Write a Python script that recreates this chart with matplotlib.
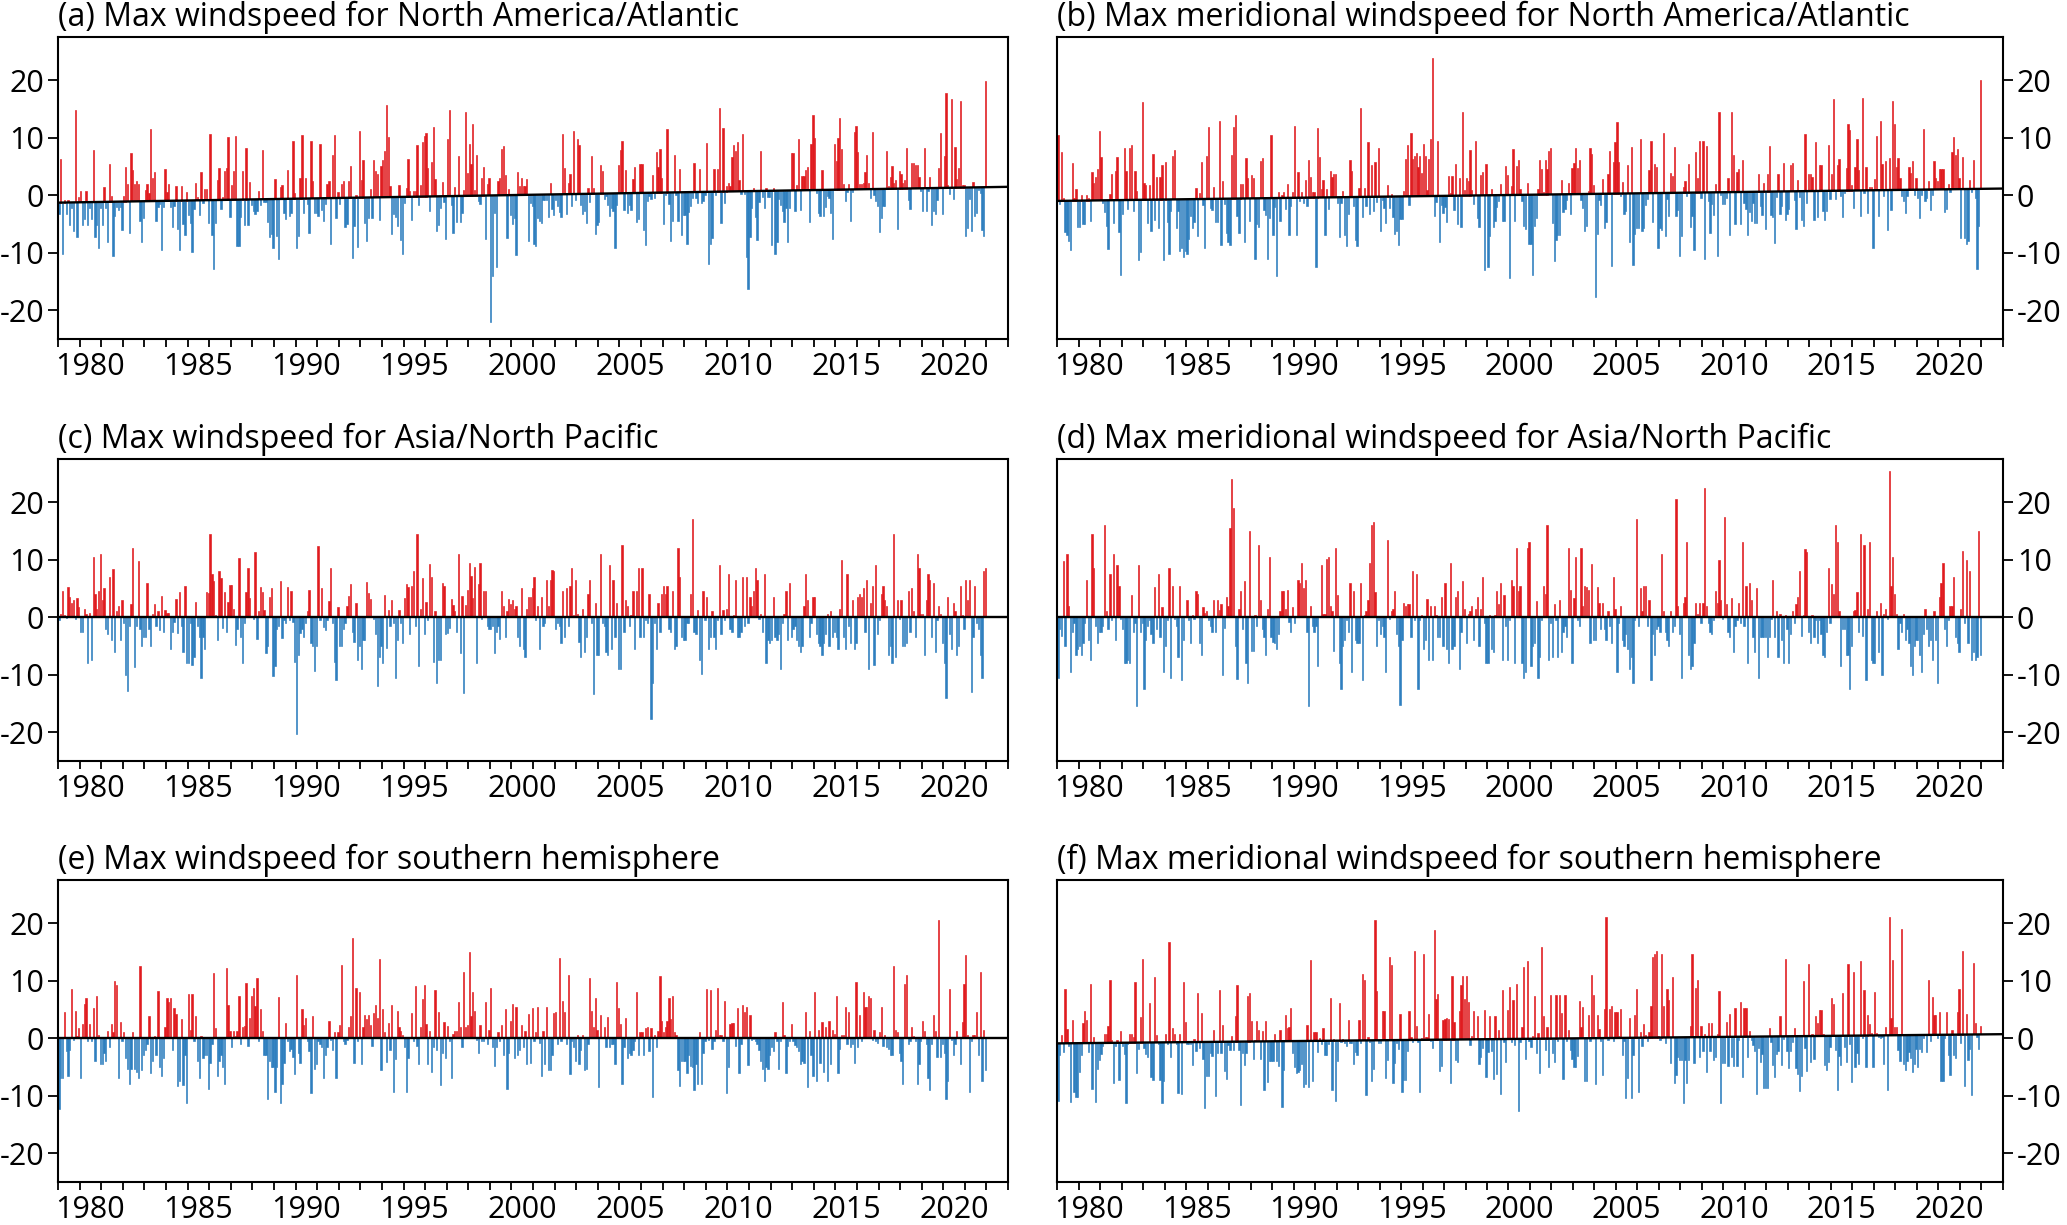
#!/usr/bin/env python3
# -*- coding: utf-8 -*-
"""
Monthly max windspeed anomalies (bars) about a linear trend (black line),
six regions / components, 1979-2021.
"""

import matplotlib
matplotlib.use("Agg")
import matplotlib.pyplot as plt
import numpy as np

plt.rcParams["font.family"] = ["Open Sans", "DejaVu Sans"]

# ------------------------------------------------------------------------------

# Data: one row of 12 monthly anomalies per year, 1979 .. 2021

FIRST_YEAR = 1979
X_RANGE = (1979, 2023)
Y_RANGE = (-25, 27.5)

# (a) Max windspeed, North America/Atlantic
ws_na = [
    [-2, 7.5, -9, 0.5, -2, 0.5, -4, -1, -5, 16, -6, 1],
    [2, -4, -3, 2, -4, -1, -3, 9, -6, -4, -8, -1],
    [-4, 2.5, -1, -7, 6.5, 1, -9.5, -2.5, -1, -1.5, -1, -5],
    [1, 6, 3, -5.5, 8.5, 5.5, 3, 3.5, 3, -3.5, -7, -3],
    [2, 3, 1.5, 12.5, 4, 5, -3.5, -1, -0.5, -8.5, -1, 5.5],
    [1.5, 3, -1, -4.5, -1, 2.5, -5, -8.5, 2.5, -4, -6, 1.5],
    [-2.5, -4, -9, -1.5, 3, 0.5, -2.5, 5, -0.5, 2, 2, -4],
    [11.5, -6, -12, -4, 3.5, 5.5, -1.5, 0.5, 5, 5.5, 11, -3],
    [2.5, 5, 11, -8, -8, -3, 5, -4.5, 9, -4.5, 3, -1],
    [-2, -2.5, -2, 1.5, -1, 8.5, -0.5, -0.5, -4, -6.5, -6, -8.5],
    [3.5, -6.5, -10.5, 2, 2.5, -2.5, -3.5, 5, -3, -2.5, 10, 1],
    [-8.5, -6.5, 3.5, 11, -2.5, 3.5, -1, -6, 10, 3, -2.5, -2.5],
    [-3, 9.5, -2, -4, -1, 2.5, 3, -8, 7.5, 11, -3.5, 1],
    [-1, 2.5, 3, -5, -4.5, 3, 5.5, -10.5, -5, 0.5, -8.5, 11.5],
    [3, 6.5, -4.5, -7.5, -3.5, 1.5, -3.5, 6.5, 4.5, 4, -4, 5.5],
    [6.5, 8, 16, 10.5, 2, -6.5, -3, -3.5, -5, 2, -7.5, -10],
    [-1, 1.5, 6.5, 1, -4, 1, 1, 9, -1.5, 2, 9.5, 10.5],
    [11, 5, -2.5, 6, 12, 3, -6, -5, -2, 2.5, -1, -7.5],
    [10, 15, -1.5, -6.5, 1.5, -4.5, 7, -4.5, -3, 1, 14.5, 4],
    [9, 5.5, 12.5, 1, 7, -1, -1.5, 3, 5, -7.5, 2, 3],
    [-22, -14, -3, -12.5, 2.5, 3, 8, 8.5, 3.5, -7.5, 1, -3.5],
    [-5, -4, -10.5, 4, 1.5, 3, 1.5, 1.5, 2.8, -8, -1.5, -2],
    [-8.5, -9, -4, -4.5, -5, -1, -1, -1, -4, 2, -2.5, -3.5],
    [-1, -2, -3, -4, 10.5, 4.5, -3.5, 2, 3.5, -2, 11, -1],
    [9.5, 8.5, -2, -3.5, -3, -5, 1, -1.5, 6.5, 1, -7, -5.5],
    [-5, 5, 4, -1, -0.5, -2, -4, -2.5, -3, -9.5, -2, 5],
    [7.5, 9, -3, 4, -3.5, -2, -3, 2.5, 4.5, -5, -4.5, 5],
    [5, -6.5, -9, -1.5, -0.5, -1, 3, -1, 7, 4.5, 7.5, 2.5],
    [-5.5, -0.5, 11, -2, -8.5, -5, 6.5, -0.5, -5, 4, -7.5, -4],
    [-4, -9, -3.5, -2.5, -1, 5, -1, -2, 4, -2, -1.5, -0.5],
    [8.5, -12.5, -9, -8, 4, -0.5, 4, 14.5, -5.5, 11, -2, 1],
    [1.5, 1, 6, 8, 7, 8.5, 2, -0.5, 10, -0.5, -11.5, -17],
    [-8, -3, 0.5, -4.5, -8.5, -2, 7, -1, -3, 0.5, -1, -1],
    [-9.5, 0.5, -11, -9, -1.5, -2.5, -3.5, -5.5, -3, -9, -3, 6.5],
    [6.5, -3.5, 1, 9, -3.5, 2.5, 2.5, 3.5, 4, -5.5, 8, 13],
    [9, -0.5, -4, -4.5, 3.5, -4.5, -3, -1, -1.5, -4, -8.5, 8],
    [5, 9, 12.5, 7, 1, -2, -0.5, 1, -5.5, -0.5, 10, 11],
    [6.5, 1, 1, 1, 3, 6, 1, -1.5, 10, -1, -2, -3],
    [-7.5, -5, -3, -3, 6.5, 0.5, 2, 4, 1, 1.5, -7, 3],
    [2.5, 1, 1.5, 7, -2, -3.5, 4.5, 4.5, 4, 4, 2, -0.5],
    [-4, 7, -4, -0.5, 2, -6.5, -4, -4.5, -2, 3.5, 9.5, -4.5],
    [5.5, 16.5, 0.5, -1, 15.5, -2, 7, 1.5, 3.5, 15, 0.5, 0.5],
    [-8.5, -7, -2, -7.5, 1, -5, -4.5, -0.5, -1, -7.5, -8.5, 18.5],
]

# (b) Max meridional windspeed, North America/Atlantic
mws_na = [
    [11.5, -0.5, 8.5, 0.5, -5.5, -6, -7, -8.5, 6.5, 0.5, 2, -4.5],
    [-4.5, 1, -4, -4, 1, 0.5, -3.5, 5, 3, 4, 5.5, 12],
    [7.5, -0.5, -2, -4.5, -8.5, 1, 4.5, -4, 5, 7.5, -5.5, -13],
    [-2.5, 9, 5, -1.5, 9, 9.5, -2, 5, 1.5, -10.5, -9, 17],
    [3, 2.5, -4, 2.5, -5.5, 8, -3.5, 4, -5, 4, 6, -10.5],
    [6.5, -4, -9.5, -2, 7.5, 8.5, -5, -2, -9, -8.5, -10, -9],
    [-9.5, -7, -3, -5, -4, 2, -6.5, 1, 6.5, -1, -8.5, 7.5],
    [12.5, -1.5, -2, 2, -4, -4, 13.5, -8, 3, -1, -6, -7.5],
    [-8, 7.5, 12.5, 14.5, -3, -6, 2.5, 2.5, -7.5, 7, 3.5, -4],
    [4, 3.5, -10.5, -4.5, -5, 6.5, 7, -2, -3, -10.5, -3.5, 11],
    [-6.5, -1.5, -13.5, 1, -4, 0.5, 1, -2, 2.5, -6.5, -1.5, 1],
    [12.5, -6.5, 4.5, -0.5, 1, -1, 3, -1.5, 6.5, 3.5, 1, 1],
    [-12, 12, 7, 1.5, 3, -6.5, 1.5, -2, 4.5, 3.5, 4, 4],
    [-1, -7, -1, 1, -6.5, -8.5, -3, 6.5, 4.5, -1.5, -7.5, -8.5],
    [1.5, 15.5, -3.5, 1.5, -1.5, 9.5, -3, 5.5, -2.5, 6, -1, 8.5],
    [-6, -0.5, -2, -4.5, 2, -2, 0.5, -3.5, -6.5, -6, -8.5, -4],
    [-4, 1, 6.5, 9, -1.5, 11, 6.5, 7, 7.5, 5, 7, 4],
    [9, 7, 1, 6.5, 10, 24, -3.5, -1, 9.5, -8, -1.5, -3],
    [-2, -4.5, 3.5, 0.5, 3.5, -2.5, 5.5, -5, 3, -5.5, 14.5, 1],
    [3, 2.5, 8, 1, -1.5, 9.5, -4, -5.5, 3.5, 4, -13, 5.5],
    [-12.5, -7, 1, -5.5, -4.5, -2, -1, 2, -4.5, -4.5, 5, 3.5],
    [-14.5, 1.5, 8, -4.5, 5, 6, 1, -1, -5.5, -6, 2, -8.5],
    [-8.5, -14, -5.5, -4, 1, 6, 4.5, 0.5, 6, 4.5, 7.5, 8],
    [-5, -11.5, -8, -7, -7, 2.5, -3, -2.5, -1, 2, -3.5, 4.5],
    [5.5, 8, 4.5, 6, -1, -2.5, -6.5, -5.5, 0.5, 8, 7, 1.5],
    [-18, -7, -1, -2, 2.5, -6, -5, 3.5, 7.5, -12.5, 5.5, 9],
    [12.5, 5.5, -0.5, 2, -3.5, -3, 5, -8.5, 8, -12.5, -7, -6],
    [-6, 9.5, -6.5, -6, -2, -1, 4, 9, -5, 5, 4.5, -9.5],
    [-6, -6.5, 10.5, -7.5, -1, -4, 3.5, 3, 8, -4, -3, -11],
    [-7.5, 1, 2, -0.5, 5, -6, -4, -10, 7, 2.5, 9, -1],
    [9, -11.5, 8, -1.5, -7, -2, -4, 1.5, -11, 14, -0.5, -2],
    [-2, -1, 2.5, -7.5, 14, 6.5, -5.5, 3.5, 4, -5.5, 5.5, -2],
    [-3, -7.5, -3.5, -5, -2, -5.5, -5.5, 3, -2.5, -4, 1.5, -6.5],
    [3, 8, -4, -4.5, -9, -1, 3, -4, -2.5, 5, -5, -4],
    [-3, 4.5, 5, -1.5, -6.5, 2, -1, -5, -6, 10, -2, 3],
    [3, 2.5, -5, 8.5, -4.5, 4.5, 4.5, -3.5, -5, -3.5, 8, -1.5],
    [3, 16, -1.5, 4.5, 5.5, -1, -4.5, -0.5, 4, 11.5, 10.5, 1],
    [-3, 4, 9, 3.5, -4.5, 16, -0.5, 4, -4, 0.5, 0.5, -10],
    [2, 9.5, -4.5, 12, 4.5, -1, 5, -7, 5.5, -3.5, 15.5, 11.5],
    [4, 5.5, 2, -1, -2, -4, -1, 4, 3, 5, -1, 2],
    [-1.5, -5, -1, 10.5, -2, -1.5, 1.5, -3.5, -1, 5, 2, 1.5],
    [3.5, 3.5, 3.5, -4, -3.5, 1, -0.5, 6.5, 9, 6, 7, 2],
    [-8.5, 5.5, -8.5, -9.5, -9, 1.5, -0.5, 5, -1.5, -14, -6.5, 19],
]

# (c) Max windspeed, Asia/North Pacific
ws_asia = [
    [-0.5, 0.5, 4.5, 0.3, -0.2, 5.3, 3.5, 2.5, 3, -0.3, 3.3, 1.8],
    [-2.5, -2.5, 1.5, 0.5, -8, 0.8, -7.5, 10.5, 4, 1.5, 4.5, 11],
    [3, 5, -2, -3, 7, -4, 8.3, -6, 1, 2, -4, 3],
    [-1, -10, -12.8, -1.5, 2.3, 12, -8.7, -1.5, 9.8, -2, -5, -3.5],
    [-3.5, 6, -2, -5, 0.5, 2.3, -1.5, 1, -2.2, 3.7, -2.5, 1.3],
    [0.8, 0.8, -5.5, -2.5, -0.8, 3.2, -2.8, 4.3, -1.5, -6, 5.5, -8],
    [-8, -1, -8.3, -7, 2.7, -1.5, -3.5, -10.5, -3.5, -5.5, 4.3, 4.2],
    [14.5, 7.5, 6.3, 0.3, -4, 8, 6.8, -1.8, 4.3, -2.5, 2.6, 5.6],
    [5.6, 1.5, -4.8, -2, 10.3, -3.5, -8, -1, 4.3, 8.5, 3.3, 0],
    [-0.3, 11.3, -3.8, 1, 5.2, 4.3, 1.3, -6.3, -5, 3.5, 5, -10.3],
    [-8.5, -2, -1.5, 6.3, -3.7, -0.5, -1, 5.3, -0.5, 4.5, -0.8, -7.8],
    [-20.3, -6.5, -2.8, -2, -3.5, -1, 1, 4.7, -4.5, -5, -9.3, -5],
    [12.3, -0.5, 5, -1.7, -2.2, -0.5, 2.8, 8.5, -1, -7.8, -11, 1.8],
    [-5, -5, -2, -1, 2, 3.7, 5.7, -2.5, -4.3, 2.5, -7.5, -5],
    [-9, -4, -4, 6.2, 4.2, 3.2, 0.1, -0.3, -3, -12, -7, -5],
    [-8, 3.8, -5.3, 1.2, -1.5, 3, -1, -10.5, -4, 1.2, -1, -4.5],
    [3.4, 5.7, 5.2, -3, 5.5, 8, -1.5, 14.5, -8.5, 1.5, 6.8, -3],
    [2.7, -0.5, 9.2, 6.9, -7.8, 1, -11.5, -7.5, -7.5, 6, 5.5, -3],
    [-2.8, -1.8, 3.2, 2.2, 1, -2.5, 11, -6.3, 3.7, -13.2, 2.2, 4.8],
    [9.5, 7.2, 3.3, 8.8, -8, 5.7, 9.5, -0.3, 4.5, 4.5, -1.5, -2],
    [-2, -1.5, -6.3, -2.5, -1.5, -3.8, 4.5, 2, -3.5, 1, 3.2, 2.3],
    [3, 1.5, 2, -3.5, -5, 5, -5.5, -7, 1.5, 3.5, 3.5, 5],
    [7, -0.5, 2, -5.5, 3.5, -1.5, -1, 6.5, 2, 6.5, 8.2, 8],
    [-2, -1, -1.5, -4.5, 4.5, -3.5, 5, -1.5, 5.5, 8.5, 0.3, 6.5],
    [0.5, -4.3, -7, 1.5, -6, -3.5, 4, 6.5, -1, -13.3, 2.5, -6.5],
    [-6.5, 11, -1, -1.5, -6, -6.5, 9, -5.5, 6.5, -3.5, 2.5, -9],
    [-9, 12.5, -2.5, 3, 2, -1.5, 0.3, 4.5, -5.5, 4.5, 8.5, -3.5],
    [8.5, -3.5, -0.5, -1, 4, -17.7, -11.5, -1, -5.5, 2.5, -2.5, 4],
    [5.5, 4, 5.5, -2, -2.5, 4.5, -5.5, -5, 12, 7, -3.5, -4],
    [-4, -1, -1, 4, 17, -2.5, -3, 1.3, -7.5, -9.8, 4.5, -0.5],
    [3.5, -5.5, -3.5, 1, -3.5, -5.5, -0.5, 9, -3, 1.3, -0.5, 1.5],
    [7.5, -2, -2.5, 0.3, 6.5, -3.5, -3.5, -2.5, 7, -1.5, 7, -1],
    [3.5, 2, 4.5, 8.5, 6.5, -0.3, 0.5, -2.5, 7.5, -8, -4, -4.5],
    [-4, 3.5, -3.5, -4, -3, -9, -1, 0.5, 4.5, -4, 6, -3.5],
    [-2, -1.5, -4, -5, -6, -5, 2, 7.5, 3, -3.5, -1, 3.5],
    [3.5, -3, -4.5, -5, -6.5, -4.5, -3, 0.5, -5, 1, -3.5, -2.5],
    [-3.5, -5.5, 1.5, 10, -3.5, -5.5, 7.5, -1.5, -4.5, 3, -5.5, -4.5],
    [3.5, 4, 3.5, 5, -2.5, 6.5, -9, 2.5, 5.5, -8.3, 9, -3],
    [-0.5, 4, 5.5, 3, 2, -6.5, -5, -8, 14.5, -7, 3, -0.3],
    [3, -5, -5, -4.5, 4.5, -2.5, 5, 1, -3.5, 11, 8.5, 0.5],
    [0.5, -6.5, 3, 7.5, 6.5, -3.5, 6, -6, -0.5, 2, 0.5, -4.5],
    [-8, -14, 3.5, -3, -5.5, 2.5, 1, -6.5, -5, 5.5, 0.3, -2],
    [6.5, 3, 6.5, -13, -3.5, 5.5, -1, -2, -6.5, -10.5, 8, 8.5],
]

# (d) Max meridional windspeed, Asia/North Pacific
mws_asia = [
    [-10.5, -2, -3.3, 9.8, -5, 11, 2, -9.5, -2.5, -1, -6.5, -5.5],
    [-5, -6.5, -4.5, -1, 6.5, -4, -7.5, 14.5, 8.5, -1.5, -4.5, -2.5],
    [-2.5, -1.5, 16, 1, -2, 7.5, -0.5, 11, -4, 9, 5.5, -0.3],
    [-2, -8, -8, -7.5, -8, 3.8, -2.5, -1, -15.5, 9, -2.5, -1],
    [-12.5, -4, -1.5, -0.5, -3, -4.5, 5.3, -2, 7.5, -3.5, 1.8, -9.5],
    [-5, -0.5, 8.5, -10.5, 5.5, -0.3, -1.5, -7, 5.5, -11, -4, 0.2],
    [3, -0.5, -4.5, 0.3, -0.3, 4.5, 4, -4.5, -6.5, 1.8, 0.8, 1],
    [-0.5, -1.5, -2.5, 3, -2.5, 3, 1.3, 2.3, -10, -1.8, 3.5, 2],
    [15.5, 24, 19, -5, -10.7, 1.5, 4.5, -2, 6.3, -8, -11.5, 15],
    [-5.8, -5.8, 0.3, -1.5, 12.5, 3, -2, -3.5, -6.5, 1.5, 10.5, -3.5],
    [-4.3, -4.5, -5.5, -3, 1, 4.5, 4.5, 1.5, 4.8, -0.8, -2.5, 1.8],
    [-1, 0.2, 6.5, 6, 9.5, 5, 6.5, -2.5, -15.5, 2, -1.5, -2.5],
    [-1.5, -8.5, 0.2, 9, 0.5, 0.5, 10.2, 10.5, 2, 1, -5.8, 12],
    [3.8, -8, -12.5, -5, -4, -0.5, -2.5, 6, -9.5, 4.5, -4, -4.5],
    [-4.5, 6, -11, 0.3, 1, 3, 9.5, 16, 16.5, 4.3, -5, -0.5],
    [-3, -1.5, -3.5, -9.5, 13.5, -0.3, 1, 1.5, 4.5, -3, -5, -15.3],
    [-4, 2.5, 2, 2.3, 2.3, -3.5, 8, -0.5, 7.5, -12.5, -0.5, 0.3],
    [-5.5, -4, 3.2, -7.5, 2, -7.5, 2, 0.3, -3.5, -3.5, 3.5, -5],
    [6, -5.5, -8, 9.5, -5.5, -5, 3.5, 4.5, -9, -2.5, 6.3, 1.5],
    [-4.5, 0.5, 1, 2, -4, 1.5, 3.5, -5, 1.5, 7, -1, -8],
    [-8, 0.3, -5.5, -6, 0.3, 4.5, 2.3, 6, -7.5, 3.8, -1.5, -7.5],
    [-0.5, 6.5, 5.5, -8, 12, 4.5, 5.5, -8, -10.5, -9.5, 12, 13],
    [-8.5, -5, -4.5, 2.8, -10.5, -7, -0.5, 5.5, 4, 16, -7.5, -1],
    [-7, 2.3, -0.5, -7, 3, -6, -2.5, -1.5, -3.5, 12, 4.8, -8],
    [3.3, 10.5, -0.5, -1.5, 12, 2, 5.5, 5.3, 4.8, -4.5, 9.3, -4],
    [-4, 5.3, 2.5, -2, 2.5, -2, -4, 1, -1.5, -4.5, 7, 1.5],
    [-9.5, -1, 2, -4, -5, -3, -5.5, -9, -7, -11.5, -0.5, 17],
    [-1.5, 5, 1, 5.5, 5.5, -1.5, 3, -11, -3, -6.5, -2, -1.5],
    [-2.5, 11, 1, -2.5, -4, -5, 1, -2.5, -1.5, 20.5, 2, -3],
    [-10.5, 2.5, 3.5, 13, -6.5, -9, -8.5, -4.5, 2.5, 0.5, 2.5, -1],
    [2.5, 22.5, 2, -1, -2.5, -3, -0.5, 4.5, 2.5, 10, 3, -0.3],
    [17.5, 2.3, -2.5, -3.5, 3.3, -6, -1.5, -0.5, 2.5, -1, 13, -1.5],
    [5.5, -8, 6, 3, -3.5, -6, 5, -10.5, -3.5, -3.5, -3.5, -3.5],
    [-7, -3.5, -0.3, 6.5, -3.5, 1, -7, 0.5, -4, -8, 0.3, -2],
    [-8, -3, 1, -1, 2.3, 3.5, 8, -3.3, 0.3, 11.8, 11.3, -2.5],
    [-4.5, 0.3, -3.5, -0.5, -4.5, -0.5, -3, -6.5, -7, -2.5, 8.5, -1],
    [5.8, 4, 16, 13, 1, -8.5, -2, -2, -6.5, -6.5, -12.5, -5],
    [1, 1.3, 4.3, -2.5, 14.5, -3.3, 12.5, -11, 1.5, 13, -7.5, -8],
    [-8, 1, -6, 2.5, -10, 0.5, 1.5, -0.3, 25.5, 5.5, 10.5, 4],
    [0.5, -5.5, -1, -2.5, 0.5, -4, -2, -4.5, -8.5, -10, -5, -4],
    [-4, -6.5, -9.5, -3, 1.5, -2, -5, -4, -7.5, 1, -4, -11.5],
    [3.5, 6, 9.5, -2, -5, -0.5, 2, 2, 7, -3.5, -4.5, -6],
    [1.5, 11.5, -1, 10, -4.5, 8, -7.5, -6, -7.5, -7, 15, -6.5],
]

# (e) Max windspeed, southern hemisphere
ws_sh = [
    [-12.3, -7, -7, 4.6, -2.3, -6.5, -2, 8.5, -0.3, 4.8, 0.3, 1.8],
    [-7, 2.5, 6, 7, -0.5, 2.5, -0.5, 5.3, -4, 7.4, 0.5, -4.5],
    [-4.5, -2.5, -4, 1.2, -1.5, 2.5, 1, 10, 9.2, -7, 2.8, -0.5],
    [1, -3.5, -5.3, -8, -5.3, 1, -5.3, -5.8, -7, 12.5, -5.5, -3],
    [-2, -1, 3.9, -6, -4, 0.3, -3, 8.2, -5, -6.5, -3.5, 2],
    [7, 6.3, 7, -2, 5.2, 4.2, -8.3, -7.5, 3.4, -8.2, -3, -11.3],
    [7.6, 1.5, 7.7, -0.5, 3.8, -4, -7, 0.3, -3.5, -3, -3, -8.8],
    [-4.3, -1, 11.3, 1.8, -6.5, -4, -3, -5, -8, 12.2, 5.8, 1.3],
    [-1.5, 1.3, 0.3, 1.2, 7.4, -1, 2, 2.2, 9.6, -1.3, 3.5, 7.4],
    [8.7, 5.6, 10.5, -0.5, 5, 1.3, -3, -3, -10.5, -4, -5, -5],
    [-9.3, -5, 7.2, -11.3, -8, -4.3, 2.6, -0.5, -2.3, -1.8, -3.3, -6.3],
    [11, -2.5, -4.3, 5, 2.3, 3.5, -0.5, -2.3, -9.5, 3.8, -5.3, -4.5],
    [-0.5, -1, -1.5, -7, -3, -1.5, 3, -0.3, -2, 1, -7, 1],
    [2.3, 12.8, -0.5, -1, -0.3, 1.9, 3.8, 17.5, -4.3, 8.8, -0.5, 8],
    [-4.5, 2, 4.1, 3.3, 4.1, 2.3, -1.3, 4.3, 5.8, 3.5, 13.8, -5.5],
    [5.1, 1, -4.2, 2.7, -2, 5.8, -9.3, -3.7, 4.7, 2, 1.3, 0.5],
    [-1.5, -9.3, -3.5, 0.2, 4.3, -0.5, 9, -1.3, -4.5, 2, 6.8, 9.3],
    [2.5, -4.5, 1.3, -5.8, -1.5, 8.4, -2, 4.5, -8.2, -2.5, 2.8, -3.5],
    [2.2, -0.5, -7, 0.8, 1.3, 1.3, 6.3, 1.9, -1.5, 11.5, 1.9, 2.3],
    [15, 3.8, 8, 4.7, -0.3, -2.5, 2.3, -0.5, -0.5, 6.3, -1, 1.5],
    [8.7, -1.5, -4.8, -1.5, 1, -0.5, 2.3, -3, 5.1, -8.8, -2.5, 3],
    [6, -3.5, 5.5, -3, -2, 2.3, -1.5, 1.3, -4.5, 4.2, -4.3, 5.3],
    [-0.5, 1, 5.5, -0.8, -6.5, 1.3, -4.5, 5.5, -5.5, -5.5, -3, 4.3],
    [4.5, -1, 14, -0.5, 6.5, 4.5, -1, 11, -6.3, -0.5, -1.5, -4],
    [0.5, -4.5, -2, 0.5, -5.5, -5.3, -1, 10.5, 4.8, 2, 7, 1.5],
    [-8.5, 4, 0.2, 1.9, -1.5, 3.7, -1.5, -1, -1, -4.5, 9.8, 5.3],
    [2.5, -8, -1.5, 3.6, -3.5, -2.5, -3, -2, -0.5, 8, -3, 1],
    [1, -3, 1.7, 2, -2.3, 1.8, -10.3, 0.5, -1.5, 1.2, 10.8, 3],
    [1, 2, 3, 7, 3.3, 7.3, 1, 0.5, -5.5, -8.3, -4, -4],
    [-4, -6, -3, -4.8, -5, -9, -4.5, -8, 1, -8, -2.5, -0.5],
    [8.5, -0.3, 8.3, -1.8, -0.5, 1.5, 8.8, 0.5, 0.5, -0.5, 6.5, -9.5],
    [-5, 2.5, 2.7, 2.7, -1.3, 5.3, -6, -1, 5.7, 4.5, 5.5, -4.7],
    [4, -0.3, -0.2, -0.5, -1, -2, -4, -5.3, -7.5, -5, -5.3, -3],
    [-1.5, -2.3, 1, -0.5, -5.3, -0.5, 6.3, 0.5, -6, -1.3, -0.5, 2.5],
    [-0.5, -1.2, -1.5, -2.3, -4.5, -4, -4.3, 4.5, -8.5, 1.2, -3, -6.5],
    [8, -7.5, 1.5, -4.3, 2.8, -5.8, 2, -7.5, 3, -4.5, 1.5, 0.8],
    [7.3, -6, -1.8, 0.5, 0.5, 5.5, -1, 4.5, -1.5, -1, -4.3, 9.8],
    [-1.5, 4, -0.5, 8, 5.5, 5.5, 7.3, 7, -0.3, 1.5, -0.5, -0.8],
    [1, 5.5, -1.3, 0.5, -1.5, -1.8, -3, -3, 12.5, 1.5, 1, -2.5],
    [-4, -8, 9.5, 11, -1, -0.5, 2, 0.3, -0.5, -8, -4.5, -0.5],
    [3, 1.3, -1, -7, -9, -1, 4, 1.3, -3.3, 20.5, -3.3, -1],
    [-2.5, -10.5, -7.5, 8.5, -0.3, -3, -1, 1.3, 0.2, -4.5, 2.8, 9.5],
    [14.5, 0.5, -9.3, -0.5, 0.5, 0.5, 4.5, -3, 11.5, -7.5, 1.5, -5.5],
]

# (f) Max meridional windspeed, southern hemisphere
mws_sh = [
    [-10, -2, 1.5, -1.5, 9.5, 2.5, -0.5, -10.3, 4, -8.5, -9.3, -9.3],
    [-5, -2, 3.5, 5.5, 4, -1.5, 10.3, -8, 1, -10.3, -4.5, -3],
    [-2, -0.5, 1.5, 1.5, 3, 11, 0.5, -7, -0.5, 0.5, -6.5, 2],
    [-0.5, -2, -10.5, -0.3, 1.5, 1.5, 1, 10.5, -5.3, -1.2, 4.5, 14.5],
    [-1, -2, -2.5, 6.8, -6, -6.5, 11.3, 1.3, -0.3, -6.5, -10.5, -6.8],
    [1.5, -0.3, 17.5, -2.5, 2.5, 1.5, -0.3, -8.8, 1.5, -9, 10.5, 3.5],
    [-0.3, -0.3, -0.3, -4, 0.5, -1.5, 8.5, -1, 5, -3, -11.5, -6],
    [-6, -2, -2.5, 2, -9.5, -2, 9, -2, 3, -5, -6.5, -0.5],
    [-1.5, 1, -1.5, 4.5, 9.8, -1.5, -11, -2, -4, -2, 8, 8.5],
    [3.5, -3, 0.3, 3.5, 2, -3, 1.8, -8.5, 3.5, -7, -3.5, -3.5],
    [-3.5, 1.3, -3.5, -4.3, 2, -11.5, -5, 4.5, 2.2, 2.5, 5.8, -2],
    [-4.5, -5.5, -5.3, -5, -4, -8, -7.5, 2.8, -8, 14, -7, 1.5],
    [1.5, -2, 0.5, -0.5, 2.3, -2.5, -2.5, -0.5, 7.5, -8.5, 0.3, -10.5],
    [-3.5, 6.5, -0.3, 0.3, -0.5, -1, 3.5, -0.5, -0.5, -4, -2, -2.5],
    [3.5, -0.5, 11.5, 10.5, -9.5, 0.5, -0.3, -7, -5, 21, 8.5, -0.5],
    [-0.5, 5, 5, -6.5, -3.5, 14.5, 13, -7.5, -4, -0.5, -1.5, 4.5],
    [-9, -7, -7, -2, 5, 0.5, -0.3, 15.5, 2.5, -0.3, -9, 0.3],
    [15, 0.5, 0.5, 4.5, -0.3, -1.5, 19, 7, 8, -5.5, -4.5, 3.5],
    [3.5, 3.8, 3.5, -7.5, 11, 3, -3.5, -4, 5, 9.5, 11, 7],
    [11, 6.5, -1, 0.5, 5, 0.3, 4, -4.3, -3, -1.5, 5, -6.5],
    [-2.3, 4, -2, -7, 4, -6, 1.5, -9.5, 8.5, -0.5, -4, 5],
    [9, -0.5, 6.8, -1, 9.5, -12.5, -0.5, 2, 12.5, -3.5, 13.5, -0.3],
    [-1.5, 0.5, 7.5, -2.5, 1, -6, 16, 4, -2, 2, -5, 7.5],
    [-2.5, -4, 7.5, -0.5, 7.5, 4.5, -7, 7.5, -0.5, 1.5, -2, -3.5],
    [-5, -5, -3, 6.5, 2, 5.5, -7.5, -7.5, 4, -0.5, 11, 7.5],
    [-8, 4, 1.5, -0.5, -6.5, 5, 21, -0.3, 5, 5.5, -0.5, 4.5],
    [4.5, 0.3, 5, -3, -0.5, -10.5, -7, 3.5, -10.5, -3, 4, 8.5],
    [-9.5, 1, -1.5, 2.3, 0.5, -0.5, 1, 5.5, 14, 14.5, 15, 0.3],
    [-0.5, 14.5, 5.5, -1, 8.5, 6.5, -4.5, 10.5, -8, -6.5, -3.5, -4],
    [-4, -11.5, -4, -8, -4, 2, 14.5, -4.5, 8.5, 10, -3.5, 2],
    [-2.5, 0.5, -6, 2.5, -2.5, 2.5, -4, -3.5, 0.5, 8, -11.5, -4.5],
    [-4.5, 2.5, -5, 4, -3.5, -5, 5, -5, -0.5, 6, -7, 5],
    [5, -3.5, 1, -0.5, -1.5, -2.5, -10, -2, -4.5, -3, -9, -9],
    [-9, 1.5, -1, -5, -7, -3, -2.5, 3.5, -5, -0.5, 13.5, -2.5],
    [-5.5, -2.5, -1, 1.5, -5.5, -6.5, -9.5, -7, 9.5, -2, -6, 12.5],
    [-4.5, 0.3, -4, 3.5, 2.2, 4.5, 4.5, 0.3, -5, -6, -4.5, -2],
    [6.5, 5.5, -2.5, -9.5, -3.5, -5, 7.5, -2, -4.5, 12.5, -1.5, -8],
    [11, -5.5, -3, -5, 13, -0.5, 8, -5.5, 3.5, 2, 0.5, -5.5],
    [7.5, 0.5, -0.3, -0.5, -0.3, -5, 1.5, -9.5, 20.5, 3, 13, 1.5],
    [1.5, -2.5, -4.5, 18.5, -5, -6, -4.5, -3, -4, -6.5, -5, -2.5],
    [-5.5, -2.5, -3, -0.5, 0.2, -3, 9.5, -1, 6.5, 3.5, 3.5, -0.5],
    [4, -8, -8, -0.5, 4, -3.5, -7, 0.8, -3.5, -4, 4, 8],
    [-1.5, 14.5, -9, 3.5, -4.5, -2.5, -10.5, 12.5, 2, -0.5, -2.5, 1.5],
]

# linear trend at the start and the end of the x range
trend_ws_na = [-1.3, 1.45]
trend_mws_na = [-1.0, 1.15]
trend_ws_asia = [0.0, 0.0]
trend_mws_asia = [0.0, 0.0]
trend_ws_sh = [0.0, 0.0]
trend_mws_sh = [-0.9, 0.7]

titles = [
    "(a) Max windspeed for North America/Atlantic",
    "(b) Max meridional windspeed for North America/Atlantic",
    "(c) Max windspeed for Asia/North Pacific",
    "(d) Max meridional windspeed for Asia/North Pacific",
    "(e) Max windspeed for southern hemisphere",
    "(f) Max meridional windspeed for southern hemisphere",
]

year_labels = [1980, 1985, 1990, 1995, 2000, 2005, 2010, 2015, 2020]
y_ticks = [-20, -10, 0, 10, 20]

RED = "#e01b1f"
BLUE = "#2f7fbf"


# ------------------------------------------------------------------------------

def draw_panel(ax, title, rows, trend, side="left"):
    """Bars of monthly anomalies standing on the trend line."""

    values = np.array([v for row in rows for v in row], dtype=float)
    x = FIRST_YEAR + (np.arange(len(values)) + 0.5) / 12.0
    slope = (trend[1] - trend[0]) / (X_RANGE[1] - X_RANGE[0])
    base = trend[0] + slope * (x - X_RANGE[0])

    colours = np.where(values >= 0, RED, BLUE)
    # thin edge in the same colour keeps every bar at least a pixel wide
    ax.bar(x, values, bottom=base, width=0.06, color=colours,
           edgecolor=colours, linewidth=0.45, align="center", zorder=2)
    ax.plot(X_RANGE, trend, color="black", lw=1.7, zorder=3)

    ax.set_xlim(*X_RANGE)
    ax.set_ylim(*Y_RANGE)

    # a tick at every new year, labels in the middle of the year
    ax.set_xticks(range(X_RANGE[0], X_RANGE[1] + 1))
    ax.set_xticklabels([])
    ax.set_xticks([y + 0.5 for y in year_labels], minor=True)
    ax.set_xticklabels([str(y) for y in year_labels], minor=True)
    ax.tick_params(axis="x", which="major", direction="out", length=5.5, width=1.3)
    ax.tick_params(axis="x", which="minor", length=0, pad=9.5, labelsize=22)

    ax.set_yticks(y_ticks)
    ax.set_yticklabels([str(t) for t in y_ticks])
    if side == "right":
        ax.yaxis.tick_right()
    ax.tick_params(axis="y", direction="out", length=7.5, width=1.3, pad=2.5,
                   labelsize=22)

    for spine in ax.spines.values():
        spine.set_linewidth(1.5)

    ax.text(0, 1.037, title, transform=ax.transAxes, ha="left", va="baseline",
            fontsize=23)


def run_all():
    fig = plt.figure(figsize=(20.67, 12.25), dpi=100)

    panels = [
        (ws_na, trend_ws_na), (mws_na, trend_mws_na),
        (ws_asia, trend_ws_asia), (mws_asia, trend_mws_asia),
        (ws_sh, trend_ws_sh), (mws_sh, trend_mws_sh),
    ]

    # axes boxes in figure fractions (left column, right column; three rows)
    lefts = [0.0281, 0.5114]
    widths = [0.4596, 0.4576]
    bottoms = [0.7233, 0.3788, 0.0351]
    height = 0.2465

    for i, (rows, trend) in enumerate(panels):
        col, row = i % 2, i // 2
        ax = fig.add_axes([lefts[col], bottoms[row], widths[col], height])
        draw_panel(ax, titles[i], rows, trend, side="left" if col == 0 else "right")

    fig.savefig("out.png", dpi=100, facecolor="w")


# ------------------------------------------------------------------------------

if __name__ == "__main__":
    run_all()
